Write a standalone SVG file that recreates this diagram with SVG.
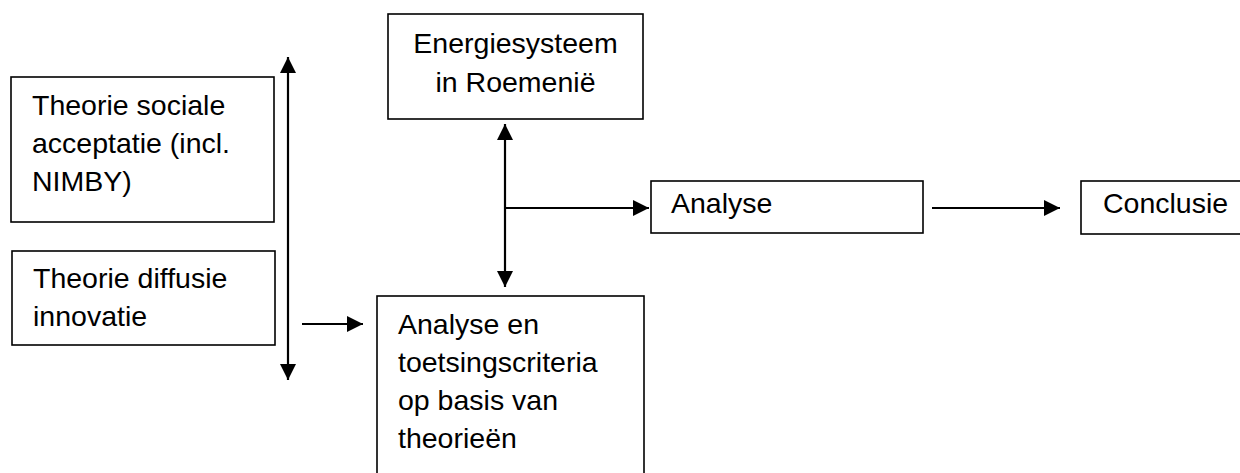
<svg xmlns="http://www.w3.org/2000/svg" width="1240" height="473" viewBox="0 0 1240 473">
<style>
.box{fill:#fff;stroke:#000;stroke-width:1.6}
.t{font-family:"Liberation Sans",Arial,sans-serif;font-size:28.5px;fill:#000}
.c{text-anchor:middle}
.ln{stroke:#000;stroke-width:2.2;fill:none}
</style>
<defs>
<marker id="ah" markerUnits="userSpaceOnUse" markerWidth="16" markerHeight="16" refX="16" refY="8" orient="auto-start-reverse">
<path d="M0,0 L16,8 L0,16 z" fill="#000"/>
</marker>
</defs>
<rect width="1240" height="473" fill="#fff"/>
<g id="n-sociale">
<rect class="box" x="11" y="77" width="263" height="145"/>
<text class="t" x="32" y="115">Theorie sociale</text>
<text class="t" x="32" y="153">acceptatie (incl.</text>
<text class="t" x="32" y="191">NIMBY)</text>
</g>
<g id="n-diffusie">
<rect class="box" x="12" y="251" width="263" height="94"/>
<text class="t" x="33" y="288">Theorie diffusie</text>
<text class="t" x="33" y="326">innovatie</text>
</g>
<g id="n-energie">
<rect class="box" x="388" y="14" width="255" height="105"/>
<text class="t c" x="515.5" y="53">Energiesysteem</text>
<text class="t c" x="515.5" y="92">in Roemenië</text>
</g>
<g id="n-toetsing">
<rect class="box" x="377" y="296" width="267" height="200"/>
<text class="t" x="398" y="334">Analyse en</text>
<text class="t" x="398" y="372">toetsingscriteria</text>
<text class="t" x="398" y="410">op basis van</text>
<text class="t" x="398" y="448">theorieën</text>
</g>
<g id="n-analyse">
<rect class="box" x="651" y="181" width="272" height="52"/>
<text class="t" x="671" y="213">Analyse</text>
</g>
<g id="n-conclusie">
<rect class="box" x="1081" y="181" width="200" height="53"/>
<text class="t" x="1103" y="213">Conclusie</text>
</g>
<g id="connectors">
<line class="ln" x1="288" y1="380" x2="288" y2="57" marker-start="url(#ah)" marker-end="url(#ah)"/>
<line class="ln" x1="302" y1="324" x2="363" y2="324" marker-end="url(#ah)"/>
<line class="ln" x1="505" y1="287" x2="505" y2="124" marker-start="url(#ah)" marker-end="url(#ah)"/>
<line class="ln" x1="505" y1="208" x2="649" y2="208" marker-end="url(#ah)"/>
<line class="ln" x1="932" y1="208" x2="1060" y2="208" marker-end="url(#ah)"/>
</g>
</svg>
